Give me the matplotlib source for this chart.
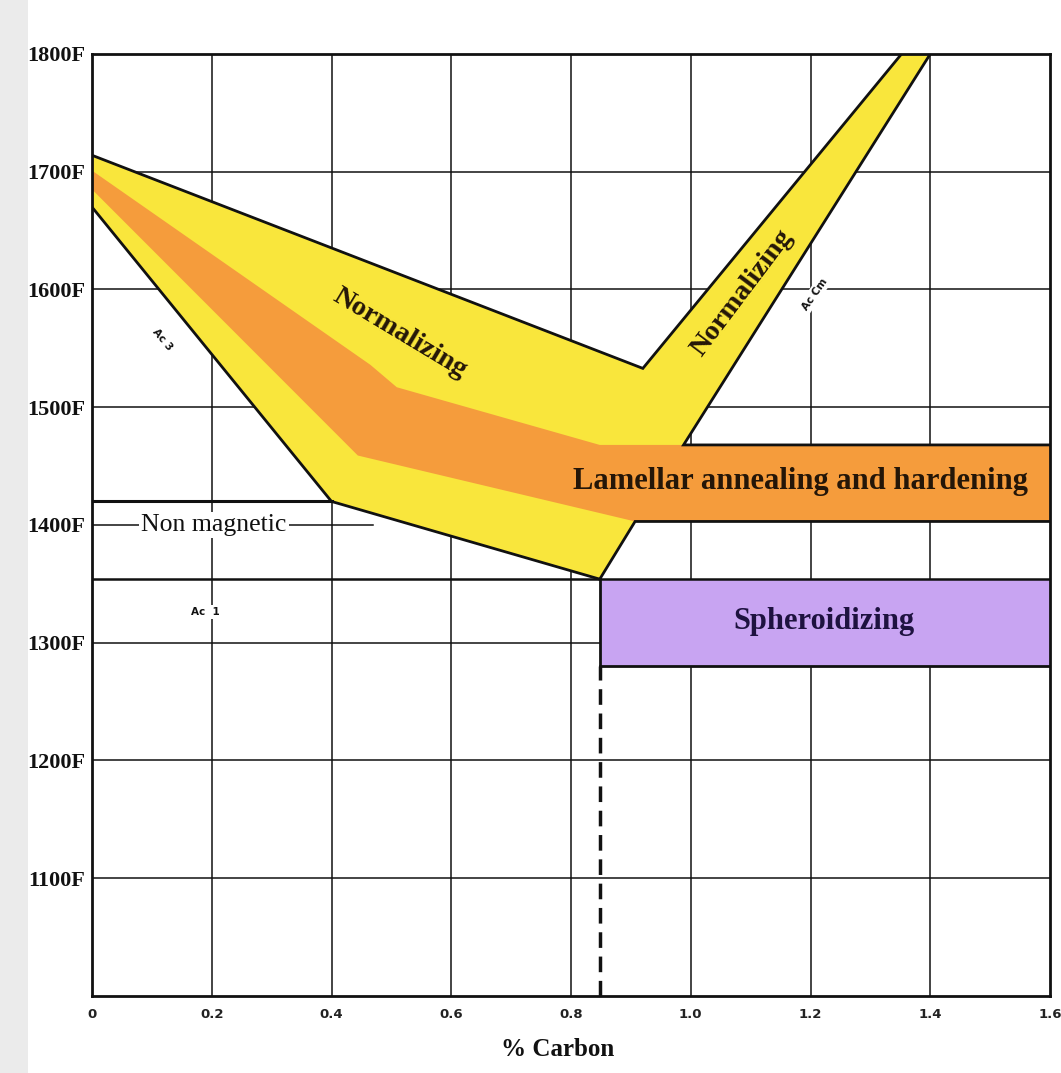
"""
Heat treatment temperature ranges for carbon steel, % carbon vs temperature.
"""

import matplotlib

matplotlib.use("Agg")
import matplotlib.patches as mpatches
import matplotlib.pyplot as plt

# ── Data (carbon %, temperature F) ───────────────────────────────────────────

CARBON_TICKS = [0, 0.2, 0.4, 0.6, 0.8, 1.0, 1.2, 1.4, 1.6]
CARBON_LABELS = ["0", "0.2", "0.4", "0.6", "0.8", "1.0", "1.2", "1.4", "1.6"]
TEMP_TICKS = [1100, 1200, 1300, 1400, 1500, 1600, 1700, 1800]
TEMP_LABELS = ["1100F", "1200F", "1300F", "1400F", "1500F", "1600F", "1700F", "1800F"]

# upper edge of the normalizing band (left arm, then right arm)
NORM_TOP_C = [0.0, 0.92, 1.352]
NORM_TOP_T = [1714, 1533, 1800]
# Ac cm line (right edge of right normalizing arm)
ACM_C = [1.40, 0.988]
ACM_T = [1800, 1468]
# Ac3 line, then lower edge to the eutectoid point
AC3_C = [0.0, 0.40, 0.848]
AC3_T = [1670, 1420, 1354]
# lower right edge of the lower yellow band
LOW_EDGE_C = [0.848, 0.907]
LOW_EDGE_T = [1354, 1403]
# lamellar annealing / hardening band
ORANGE_TOP_C = [0.0, 0.465, 0.509, 0.848, 1.6]
ORANGE_TOP_T = [1701, 1536, 1517, 1468, 1468]
ORANGE_BOT_C = [0.0, 0.444, 0.907, 1.6]
ORANGE_BOT_T = [1685, 1459, 1403, 1403]
# spheroidizing band
SPHERO_C = [0.848, 1.6]
SPHERO_T = [1280, 1354]
# reference lines
NONMAG_T = 1420
NONMAG_C = [0.0, 0.40]
AC1_T = 1354
EUTECTOID_C = 0.848

# ── Colors ───────────────────────────────────────────────────────────────────

YELLOW = "#F9E63C"
ORANGE = "#F59C3C"
PURPLE = "#C8A4F2"
INK = "#111111"
TEXT_DARK = "#241608"

SERIF = "Liberation Serif"

fig = plt.figure(figsize=(10.61, 10.73), dpi=100)
fig.patch.set_facecolor("white")
# grey page strip on the far left of the original screenshot
fig.patches.append(mpatches.Rectangle((0, 0), 28 / 1061, 1, transform=fig.transFigure,
                                      facecolor="#EBEBEB", edgecolor="none", zorder=0))

ax = fig.add_axes([92 / 1061, 1 - 996 / 1073, 958 / 1061, 942 / 1073])
ax.set_xlim(0, 1.6)
ax.set_ylim(1000, 1800)

# grid
for c in CARBON_TICKS[1:-1]:
    ax.axvline(c, color=INK, lw=1.1, zorder=1)
for t in TEMP_TICKS[:-1]:
    if t == 1400:
        continue
    ax.axhline(t, color=INK, lw=1.1, zorder=1)
ax.plot([0, 0.47], [1400, 1400], color=INK, lw=1.1, zorder=1)

# yellow normalizing region
yellow_c = NORM_TOP_C + ACM_C + LOW_EDGE_C[::-1] + AC3_C[::-1]
yellow_t = NORM_TOP_T + ACM_T + LOW_EDGE_T[::-1] + AC3_T[::-1]
ax.fill(yellow_c, yellow_t, color=YELLOW, lw=0, zorder=2)

# orange lamellar band
orange_c = ORANGE_TOP_C + ORANGE_BOT_C[::-1]
orange_t = ORANGE_TOP_T + ORANGE_BOT_T[::-1]
ax.fill(orange_c, orange_t, color=ORANGE, lw=0, zorder=3)

# spheroidizing band
ax.fill_between(SPHERO_C, SPHERO_T[0], SPHERO_T[1], color=PURPLE, lw=0, zorder=3)

# black outlines
line_kw = dict(color=INK, lw=2.0, zorder=4, solid_joinstyle="miter")
ax.plot(NORM_TOP_C, NORM_TOP_T, **line_kw)
ax.plot(ACM_C + [ORANGE_TOP_C[-1]], ACM_T + [ORANGE_TOP_T[-1]], **line_kw)
ax.plot([ORANGE_BOT_C[-1]] + LOW_EDGE_C[::-1], [ORANGE_BOT_T[-1]] + LOW_EDGE_T[::-1], **line_kw)
ax.plot(AC3_C, AC3_T, **line_kw)
ax.plot(NONMAG_C, [NONMAG_T, NONMAG_T], color=INK, lw=2.2, zorder=4)
ax.plot([0, SPHERO_C[1]], [AC1_T, AC1_T], color=INK, lw=1.8, zorder=4)
ax.plot([SPHERO_C[0], SPHERO_C[1]], [SPHERO_T[0], SPHERO_T[0]], **line_kw)
ax.plot([SPHERO_C[0], SPHERO_C[0]], SPHERO_T, **line_kw)
ax.plot([EUTECTOID_C, EUTECTOID_C], [1000, SPHERO_T[0]], color=INK, lw=2.5,
        linestyle=(0, (4.5, 2.5)), zorder=4)

# region labels
big = dict(family=SERIF, fontweight="bold", color=TEXT_DARK, ha="center",
           va="center", rotation_mode="anchor", zorder=6)
ax.text(0.514, 1563, "Normalizing", fontsize=20.5, rotation=-31, **big)
ax.text(1.085, 1597, "Normalizing", fontsize=20.5, rotation=53, **big)
ax.text(1.184, 1437, "Lamellar annealing and hardening", fontsize=22, **big)
ax.text(1.222, 1318, "Spheroidizing", fontsize=22, **dict(big, color="#1E1240"))

white_box = dict(facecolor="white", edgecolor="none", pad=1.5)
ax.text(0.204, 1400, "Non magnetic", family=SERIF, fontsize=18.5, color=INK,
        ha="center", va="center", bbox=white_box, zorder=5)

small = dict(family="DejaVu Sans", fontweight="bold", fontsize=7.5, color=INK,
             ha="center", va="center", rotation_mode="anchor", zorder=6)
ax.text(0.117, 1557, "Ac 3", rotation=-50, **small)
ax.text(1.207, 1596, "Ac Cm", rotation=55, bbox=white_box, **small)
ax.text(0.19, 1326, "Ac  1", bbox=white_box, **small)

# axes cosmetics
ax.set_xticks(CARBON_TICKS)
ax.set_xticklabels(CARBON_LABELS, family="DejaVu Sans", fontweight="bold",
                   fontsize=9.5, color="#222222")
ax.set_yticks(TEMP_TICKS)
ax.set_yticklabels(TEMP_LABELS, family=SERIF, fontweight="bold", fontsize=16,
                   color=INK)
ax.tick_params(axis="x", length=0, pad=9)
ax.tick_params(axis="y", length=0, pad=5)
for spine in ax.spines.values():
    spine.set_linewidth(2.0)
    spine.set_color(INK)
    spine.set_zorder(7)

ax.set_xlabel("% Carbon", family=SERIF, fontweight="bold", fontsize=18, color=INK)
ax.xaxis.set_label_coords(0.486, -0.045)

fig.savefig("out.png", dpi=100, facecolor="white")
